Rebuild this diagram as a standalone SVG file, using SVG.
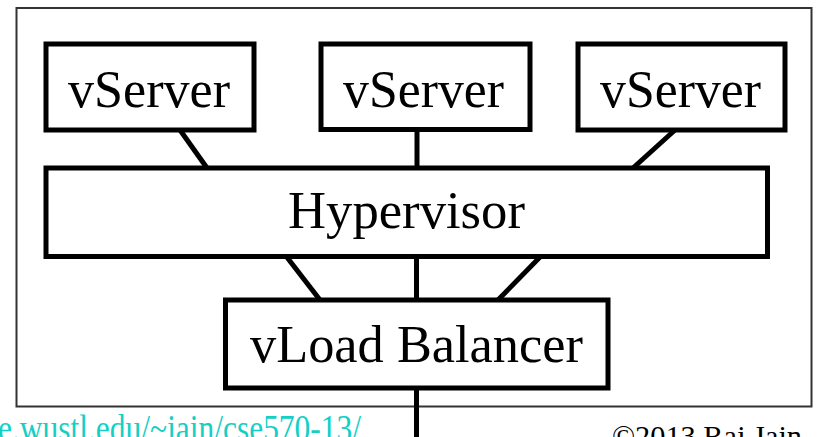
<svg xmlns="http://www.w3.org/2000/svg" width="817" height="437" viewBox="0 0 817 437">
  <style>
    .box { fill: #ffffff; stroke: #000000; stroke-width: 5; }
    .frame { fill: none; stroke: #333333; stroke-width: 2; }
    .link { stroke: #000000; stroke-width: 5; fill: none; }
    .label { font-family: "Liberation Serif", "Times New Roman", serif; font-size: 52px; fill: #000000; }
    .url { font-family: "Liberation Serif", "Times New Roman", serif; font-size: 37px; fill: #14cfc6; }
    .copy { font-family: "Liberation Serif", "Times New Roman", serif; font-size: 30px; fill: #000000; }
  </style>
  <rect width="817" height="437" fill="#ffffff"/>

  <!-- enclosing host frame -->
  <rect class="frame" x="16.5" y="8" width="795" height="398.5"/>

  <!-- connectors -->
  <g id="connectors">
    <line class="link" x1="180" y1="130" x2="207" y2="168"/>
    <line class="link" x1="417" y1="129" x2="417" y2="168"/>
    <line class="link" x1="675" y1="130" x2="633" y2="168"/>
    <line class="link" x1="286" y1="256" x2="320" y2="300"/>
    <line class="link" x1="416.5" y1="256" x2="416.5" y2="300"/>
    <line class="link" x1="541" y1="256" x2="498" y2="300"/>
    <line class="link" x1="416.5" y1="388" x2="416.5" y2="437"/>
  </g>

  <g id="vserver1">
    <rect class="box" x="46" y="44" width="208" height="86"/>
    <text class="label" x="68" y="107" textLength="162" lengthAdjust="spacingAndGlyphs">vServer</text>
  </g>
  <g id="vserver2">
    <rect class="box" x="321" y="44" width="209" height="85.5"/>
    <text class="label" x="343" y="107" textLength="161" lengthAdjust="spacingAndGlyphs">vServer</text>
  </g>
  <g id="vserver3">
    <rect class="box" x="578" y="44" width="207" height="86"/>
    <text class="label" x="600" y="107" textLength="161" lengthAdjust="spacingAndGlyphs">vServer</text>
  </g>
  <g id="hypervisor">
    <rect class="box" x="46" y="168" width="721.5" height="88.5"/>
    <text class="label" x="288" y="228" textLength="237" lengthAdjust="spacingAndGlyphs">Hypervisor</text>
  </g>
  <g id="vloadbalancer">
    <rect class="box" x="225.5" y="300" width="382.5" height="88"/>
    <text class="label" x="250" y="362" textLength="333" lengthAdjust="spacingAndGlyphs">vLoad Balancer</text>
  </g>

  <!-- footer: page URL and copyright line, running off the bottom edge -->
  <text class="url" x="-2" y="441" textLength="363" lengthAdjust="spacingAndGlyphs">e.wustl.edu/~jain/cse570-13/</text>
  <text class="copy" x="612" y="446" textLength="190" lengthAdjust="spacingAndGlyphs">©2013 Raj Jain</text>
</svg>
